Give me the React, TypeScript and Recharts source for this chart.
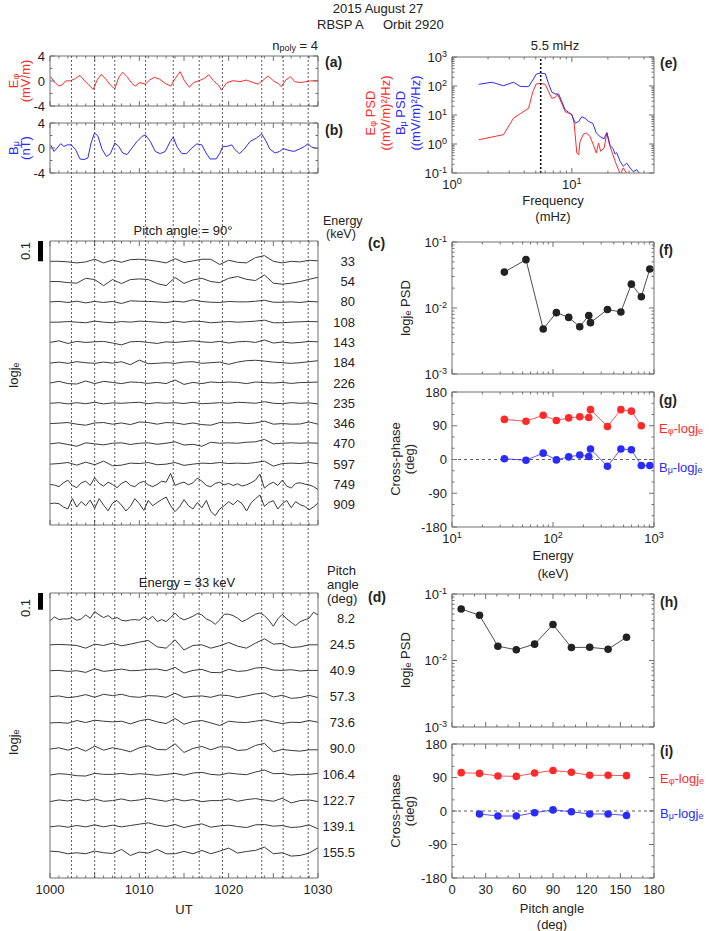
import React from 'react';
import { LineChart, Line, XAxis, YAxis, ReferenceLine } from 'recharts';

const FONT = '"Liberation Sans", Arial, Helvetica, sans-serif';
const INK = '#222';
const BOX = '#707070';
const RED = '#ff2b2b';
const BLUE = '#2b2bff';
const TRACE = '#3a3a3a';
const PAD = 45;

// minutes after 10:00 UT
const MIN = [0, 1, 2, 3, 4, 5, 6, 7, 8, 9, 10, 11, 12, 13, 14, 15, 16, 17, 18, 19, 20, 21, 22, 23, 24, 25, 26, 27, 28, 29, 30];
const HALF = [0, 0.5, 1, 1.5, 2, 2.5, 3, 3.5, 4, 4.5, 5, 5.5, 6, 6.5, 7, 7.5, 8, 8.5, 9, 9.5, 10, 10.5, 11, 11.5, 12, 12.5, 13, 13.5, 14, 14.5, 15,
  15.5, 16, 16.5, 17, 17.5, 18, 18.5, 19, 19.5, 20, 20.5, 21, 21.5, 22, 22.5, 23, 23.5, 24, 24.5, 25, 25.5, 26, 26.5, 27, 27.5, 28, 28.5, 29, 29.5, 30];
const markerMin = [2.4, 5.0, 7.25, 10.7, 13.8, 16.7, 19.3, 23.7, 26.1, 28.9];

// (a) E_phi, mV/m
const ePhiMin = [0.07, 0.45, 1.0, 1.37, 1.75, 2.3, 2.86, 3.35, 3.8, 4.35, 4.83, 5.28, 5.72, 6.2, 6.77, 7.25, 7.7, 8.14, 8.62, 9.18, 9.55, 10.04, 10.67, 11.15, 11.67, 12.27, 12.9, 13.53, 14.0, 14.57,
  15.0, 15.6, 16.06, 16.7, 17.25, 17.77, 18.3, 18.85, 19.2, 19.8, 20.5, 21.26, 22.0, 22.75, 23.3, 23.87, 24.42, 25.0, 25.54, 25.9, 26.4, 26.9, 27.4, 27.96, 28.5, 29.07, 29.6, 30];
const ePhi = [0.7, -0.1, -0.8, -0.6, 0, 0.05, 0.4, 0.9, 0.15, -0.65, -1.35, 0.15, 1.05, 0.4, -0.65, -1.25, 0.6, 1.4, 0.7, -0.4, -0.8, -0.25, -0.5, 0.15, 0.6, 0.3, -0.4, -0.8, 0.4, 1.5,
  0.15, -1.0, -0.25, 0.05, 0.4, 1.0, 0.05, -0.65, -1.45, -0.25, 0.05, -0.1, 0.15, -0.25, -0.5, 0.15, 0.8, 0.05, -0.4, -0.9, 0.15, 0.7, -0.1, -0.25, -0.15, 0, 0.05, 0.05];

// (b) B_mu, nT
const bMuMin = [0.07, 0.45, 0.8, 1.2, 1.56, 1.93, 2.38, 2.86, 3.35, 3.8, 4.24, 4.6, 4.98, 5.35, 5.84, 6.32, 6.77, 7.25, 7.7, 8.14, 8.62, 9.18, 9.74, 10.3, 10.67, 11.23, 11.78, 12.34, 12.9, 13.46, 13.8,
  14.2, 14.76, 15.3, 15.87, 16.43, 17.0, 17.47, 17.92, 18.6, 19.03, 19.33, 19.8, 20.35, 20.7, 21.2, 21.7, 22.4, 23.12, 23.7, 24.2, 24.6, 25.2, 25.7, 26.1, 26.65, 27.3, 27.96, 28.5, 28.9, 29.26, 30];
const bMu = [0.5, -0.55, 0, 0.7, 0.25, 0.5, 0.5, -0.25, -1.75, -1.85, -1.6, 0.8, 2.4, 1.95, -0.25, -1.35, -0.9, 0.8, 0.25, -0.8, -1.05, 0, 1.05, 1.85, 2.1, 1.05, -0.55, -0.9, -0.55, 1.05, 1.75,
  0.25, -0.9, -0.9, 0, 0.65, 0.5, -0.8, -1.75, -1.75, -0.8, 0.25, 0.25, 0.5, -0.25, -0.9, -0.25, 1.05, 1.6, 2.25, 1.05, -0.15, -0.8, -0.55, -0.1, -0.35, -0.55, -0.15, 0.25, 0.7, 0.15, -0.1];

// (c) log je fluctuations at 90 deg, in 0.001 units
const energyKeV = [33, 54, 80, 108, 143, 184, 226, 235, 346, 470, 597, 749, 909];
const c33 = [0, 0, -3, -8, -3, 10, -8, 6, -5, 8, 10, 6, 0, -8, 13, -6, 2, 10, 10, -16, 5, -5, -8, 18, 28, 0, -8, 0, -3, 5, 2];
const c54 = [0, 0, -5, -8, 16, 10, -20, 10, -10, 10, 13, 10, -10, -20, 20, -9, 8, 16, 0, -5, 16, 25, 11, 5, 33, -8, -13, -8, 0, 11, 21];
const c80 = [0, 2, -3, 3, -5, 2, -3, 2, -8, 5, 3, 2, 0, -3, 3, -1, 10, 2, -2, -3, 2, 0, 0, 3, 8, -2, -2, 0, -3, 2, 0];
const c108 = [0, 0, 3, 0, -3, 5, 0, -3, 3, 0, 5, 3, 0, -3, 5, -1, 5, 3, -3, 0, 3, 0, 2, 5, 10, -3, -3, 0, 2, 3, 2];
const c143 = [0, 8, -5, 5, 0, 3, 5, -3, -12, 3, 5, 0, -5, 3, 0, 4, 8, 3, 0, 5, -3, 3, 5, 0, 12, -3, 2, -3, 0, 5, 3];
const c184 = [-2, 3, -3, 5, 0, -3, 3, -2, 5, -10, 13, -5, -3, 0, -3, 3, 5, -3, 0, 3, -8, 3, 10, 12, 8, 3, 0, -3, 0, 5, 10];
const c226 = [0, 8, -3, -5, 10, -3, 8, 3, -3, 5, 3, -2, 3, -3, 15, -7, 3, -3, 5, 2, 5, 3, -3, 5, 2, 0, 3, -2, 2, 3, 5];
const c235 = [0, 3, -3, 3, -2, 5, -3, 2, 0, 3, 5, -2, 3, 0, 3, -1, 5, -2, 0, 3, 0, 5, 3, 0, 8, 0, -2, 3, 0, 2, -3];
const c346 = [0, 2, 5, -3, -8, 3, 5, -3, 3, -5, 8, 5, -3, 5, 3, -4, 3, -5, -8, 5, 3, 5, 0, 3, 12, -3, 0, -3, -2, 8, -3];
const c470 = [0, 5, -3, -12, 5, 0, -5, 3, 5, -3, 3, 5, -2, 3, 10, -6, -2, -12, 8, 3, 5, 3, 8, 10, 22, 0, 3, 5, 3, 5, 3];
const c597 = [0, 3, 8, -5, 10, -3, 15, -8, -5, 5, 3, 8, -3, 0, 8, -6, 0, 5, 3, 8, 3, 5, 3, 8, 15, -10, 3, 5, 3, 8, 2];
const c749 = [0, -3, -11, 8, 21, -5, -16, 8, 16, -5, 33, 5, -8, 11, 0, -16, 5, 16, -5, -11, 8, 15, -2, -11, 0, 16, 11, 54, -5, 5, 11,
  -2, 8, 31, 16, -5, -11, 5, 11, -2, 5, -5, 3, -8, -2, 8, 21, 51, -18, 0, 11, -5, 21, -8, -18, 5, 8, 2, -2, -11, -25];
const c909 = [5, 8, 5, -11, -21, 30, -11, 15, -5, 23, -18, 30, -2, -30, 8, 21, -2, -31, -8, 30, 5, -28, 21, -5, 11, 25, 38, -5, -34, -11, 25,
  -5, -21, 11, -15, 21, -33, -54, -21, -5, 15, 0, 21, 5, -31, 8, 30, 48, -8, 11, 20, -21, 5, 21, -15, 15, 0, -8, -25, -11, 8];
const cTraces = [c33, c54, c80, c108, c143, c184, c226, c235, c346, c470, c597, c749, c909];

// (d) log je fluctuations at 33 keV, in 0.001 units
const pitchDeg = [8.2, 24.5, 40.9, 57.3, 73.6, 90.0, 106.4, 122.7, 139.1, 155.5];
const d8 = [-12, 12, -4, 0, 0, 8, -8, 0, 24, 4, 44, 24, 8, 20, 0, 8, -8, -12, -6, -4, -8, 12, -4, 16, -16, -4, -16, 8, 34, 8, -6,
  4, 16, 32, 24, 0, -12, -32, -6, 28, 28, 20, 4, -16, -4, 12, 28, 36, 20, -8, -44, 0, 28, 0, -20, -40, -16, -6, 4, 40, 24];
const d24 = [0, 2, 0, -4, -20, 4, -4, 10, -6, 4, 16, 26, -12, -20, 30, -31, -4, 0, -20, -6, 14, -8, -20, 10, 36, 4, 8, -16, -12, 0, 0];
const d40 = [0, 2, -4, 0, -10, 12, -4, 2, 10, 0, 2, 8, 10, 0, 20, -14, 2, 8, -10, -12, 8, -4, 0, 16, 20, 4, 2, 6, -2, 2, 2];
const d57 = [0, 4, -6, 0, 12, -4, 14, 6, 14, 0, -4, 6, 4, -4, 20, -5, 2, 4, -4, 10, 6, -6, 4, 16, 22, -2, 8, -10, -6, 8, -6];
const d73 = [-2, 0, -4, 12, 0, 14, 8, 4, 8, -8, 10, 20, 4, -6, 24, -10, 6, 12, -2, -18, 8, 2, 0, 8, 16, 4, -6, 2, 0, 12, 2];
const d90 = [-4, 4, -10, 6, -16, 14, -10, 4, -6, -20, 4, 16, -6, -8, 28, -24, 0, 12, -8, 10, 8, -12, -8, 18, 30, -20, -6, -12, -16, -8, -8];
const d106 = [-4, 4, 0, -8, -10, 6, 0, 0, 6, -2, 4, 0, -6, 0, 6, -5, 8, 12, 0, -4, 8, 2, -2, 14, 26, 4, 6, -4, 0, 0, 6];
const d122 = [-8, 2, -4, 6, -4, 8, -6, -2, 8, -4, 2, 12, 2, -6, 8, -4, 4, -8, -2, -2, 8, -6, 4, 10, 2, -6, 12, -16, -2, 2, -8];
const d139 = [-4, 2, -6, 4, -4, 8, -4, 6, -4, 4, 12, 20, 6, -2, 10, -8, 4, 14, -6, 2, 6, -2, -8, 8, 10, 0, 4, -8, -4, 8, -16];
const d155 = [6, 2, -10, -4, -10, 6, -4, -8, 16, -20, 0, -6, 16, -10, -10, 4, -10, 10, -10, 6, 24, -6, 4, 10, 30, -10, -4, -24, -20, -6, 26];
const dTraces = [d8, d24, d40, d57, d73, d90, d106, d122, d139, d155];

// (e) power spectra
const peakMHz = 5.5;
const bFreq = [1.67, 2.15, 2.69, 3.26, 3.71, 4.35, 4.73, 5.04, 5.45, 6.0, 6.4, 6.8, 7.26, 7.75, 8.26, 8.8, 9.38, 10, 10.7, 11.4, 12.1, 12.9, 13.8, 15.0, 16.0,
  17.2, 18.6, 19.6, 20.9, 22.0, 23.0, 23.7, 25.3, 26.9, 28.7, 30.6, 32.6, 34.8, 37.1];
const bPsd = [114, 135, 102, 135, 97, 95, 160, 255, 280, 265, 120, 62, 53, 53, 29, 15, 12.5, 10, 5.2, 6, 8.7, 7.7, 6, 5.1, 2.4,
  1.8, 1.5, 2.5, 0.9, 0.7, 0.45, 0.5, 0.25, 0.17, 0.22, 0.15, 0.11, 0.13, 0.09];
const eFreq = [1.67, 2.69, 3.26, 4.35, 4.73, 5.04, 5.45, 6.0, 6.4, 6.8, 7.26, 7.6, 8.0, 8.8, 9.38, 10, 10.45, 11.0, 11.4, 11.7, 12.5, 13.3, 14.2, 15.1, 16.0,
  16.7, 17.4, 18.6, 19.6, 20.6, 22.0, 23.0, 24.5, 25.3, 26.9, 28.7, 30.6];
const ePsd = [1.4, 2.1, 7.8, 17, 64, 117, 123, 114, 64, 38, 40, 52, 33, 13, 11.5, 10.7, 5.2, 0.49, 0.43, 1.2, 2.2, 2.4, 1.8, 0.95, 0.49,
  1.08, 0.56, 0.73, 2.4, 0.95, 0.43, 0.25, 0.13, 0.09, 0.15, 0.1, 0.085];

// (f)(g) vs energy
const psdEnergy = [0.035, 0.054, 0.0048, 0.0085, 0.0072, 0.0052, 0.0077, 0.006, 0.0095, 0.0087, 0.023, 0.0148, 0.039];
const phaseEEnergy = [107, 102, 118, 104, 111, 114, 112, 133, 88, 133, 129, 90];
const phaseBEnergy = [2, -2, 17, -1, 7, 12, 8, 28, -18, 28, 26, -16, -16];

// (h)(i) vs pitch angle
const psdPitch = [0.0596, 0.048, 0.0164, 0.0145, 0.0176, 0.0347, 0.0157, 0.0158, 0.0148, 0.0224];
const phaseEPitch = [103, 101, 94, 93, 102, 109, 104, 96, 96, 95];
const phaseBPitch = [null, -8, -13.5, -13.5, -4.5, 3, -2, -8, -8, -12];

const C_STEP = 0.1;
const C_MAX = (energyKeV.length + 1) * C_STEP;
const D_STEP = 0.155;
const D_MAX = (pitchDeg.length + 1) * D_STEP;
const cOffsets = energyKeV.map((_, k) => (energyKeV.length - k) * C_STEP);
const dOffsets = pitchDeg.map((_, k) => (pitchDeg.length - k) * D_STEP);

const pts = (xs: number[], ys: (number | null)[]) => xs.map((x, i) => ({ x, y: ys[i] }));

const near = (a: number, b: number) => Math.abs(a - b) <= 1e-6 * Math.max(1, Math.abs(b));
const pow10 = (v: number) => (
  <>
    10<tspan dy={-5} fontSize={9}>{Math.round(Math.log10(v))}</tspan>
  </>
);

type Side = 'bottom' | 'top' | 'left' | 'right';
function makeTick(side: Side, majors: number[], label?: (v: number) => React.ReactNode) {
  return (p: any) => {
    const v = p.payload.value;
    const major = majors.some((m) => near(v, m));
    const len = major ? 5 : 2.5;
    const { x, y } = p;
    const txt = major && label ? label(v) : null;
    let ln: React.ReactNode = null;
    let t: React.ReactNode = null;
    const tp = { fontSize: 13, fill: INK, fontFamily: FONT };
    if (side === 'bottom') {
      ln = <line x1={x} y1={y} x2={x} y2={y - len} stroke={BOX} />;
      if (txt != null) t = <text x={x} y={y + 16} textAnchor="middle" {...tp}>{txt}</text>;
    } else if (side === 'top') {
      ln = <line x1={x} y1={y} x2={x} y2={y + len} stroke={BOX} />;
    } else if (side === 'left') {
      ln = <line x1={x} y1={y} x2={x + len} y2={y} stroke={BOX} />;
      if (txt != null) t = <text x={x - 5} y={y + 4.5} textAnchor="end" {...tp}>{txt}</text>;
    } else {
      ln = <line x1={x} y1={y} x2={x - len} y2={y} stroke={BOX} />;
    }
    return <g>{ln}{t}</g>;
  };
}

const sideLabelTick = (offsets: number[], labels: string[]) => (p: any) => {
  const i = offsets.findIndex((o) => near(o, p.payload.value));
  return (
    <text x={p.x + 37} y={p.y + 4.5} textAnchor="end" fontSize={13} fill={INK} fontFamily={FONT}>
      {labels[i]}
    </text>
  );
};

interface AxisSpec {
  domain: [number, number];
  ticks?: number[];
  majors?: number[];
  log?: boolean;
  label?: (v: number) => React.ReactNode;
}

function frame(xs: AxisSpec, ys: AxisSpec, rightTick?: any, rightTicks?: number[]) {
  const common = { type: 'number' as const, allowDataOverflow: true, interval: 0 as const, tickLine: false, tickSize: 0, tickMargin: 0, axisLine: { stroke: BOX } };
  const xsc = xs.log ? 'log' : 'linear';
  const ysc = ys.log ? 'log' : 'linear';
  return [
    <XAxis key="xb" xAxisId="b" dataKey="x" orientation="bottom" height={1} domain={xs.domain} scale={xsc} ticks={xs.ticks}
      tick={xs.ticks ? makeTick('bottom', xs.majors || [], xs.label) : false} {...common} />,
    <XAxis key="xt" xAxisId="t" dataKey="x" orientation="top" height={1} domain={xs.domain} scale={xsc} ticks={xs.ticks}
      tick={xs.ticks ? makeTick('top', xs.majors || []) : false} {...common} />,
    <YAxis key="yl" yAxisId="l" orientation="left" width={1} domain={ys.domain} scale={ysc} ticks={ys.ticks}
      tick={ys.ticks ? makeTick('left', ys.majors || [], ys.label) : false} {...common} />,
    <YAxis key="yr" yAxisId="r" orientation="right" width={1} domain={ys.domain} scale={ysc} ticks={rightTicks || ys.ticks}
      tick={rightTick || (ys.ticks ? makeTick('right', ys.majors || []) : false)} {...common} />,
  ];
}

function Panel({ x, y, w, h, bare = false, children }: { x: number; y: number; w: number; h: number; bare?: boolean; children: React.ReactNode }) {
  const m = bare ? PAD : PAD - 1;
  return (
    <div style={{ position: 'absolute', left: x - PAD, top: y - PAD }}>
      <LineChart width={w + 2 * PAD} height={h + 2 * PAD} margin={{ top: m, right: m, bottom: m, left: m }}>
        {children}
      </LineChart>
    </div>
  );
}

function series(data: any[], color: string, width = 1, dotR = 0) {
  return (
    <Line data={data} dataKey="y" xAxisId="b" yAxisId="l" type="linear" stroke={color} strokeWidth={width}
      dot={dotR ? { r: dotR, fill: color, stroke: color, strokeWidth: 0 } : false} activeDot={false}
      isAnimationActive={false} connectNulls={false} />
  );
}

const LX = 50, LW = 268, RX = 452, RW = 202;
const timeTicks = MIN;
const timeMajors = [0, 5, 10, 15, 20, 25, 30];
const logMinor = (a: number, b: number) => {
  const out: number[] = [];
  for (let d = a; d < b * 0.999; d *= 10) for (let k = 1; k < 10; k++) out.push(d * k);
  out.push(b);
  return out;
};
const decades = (a: number, b: number) => {
  const out: number[] = [];
  for (let d = a; d <= b * 1.0001; d *= 10) out.push(d);
  return out;
};
const phaseTicks = [-180, -150, -120, -90, -60, -30, 0, 30, 60, 90, 120, 150, 180];
const phaseMajors = [-180, -90, 0, 90, 180];
const pitchTicks = [0, 10, 20, 30, 40, 50, 60, 70, 80, 90, 100, 110, 120, 130, 140, 150, 160, 170, 180];
const pitchMajors = [0, 30, 60, 90, 120, 150, 180];
const freqTicks = [1, 2, 3, 4, 5, 6, 7, 8, 9, 10, 20, 30, 40];

function T({ x, y, children, anchor = 'start', size = 13, weight = 'normal', fill = INK, rot = false }: any) {
  return (
    <text x={x} y={y} textAnchor={anchor} dominantBaseline="central" fontSize={size} fontWeight={weight} fill={fill}
      fontFamily={FONT} transform={rot ? `rotate(-90 ${x} ${y})` : undefined}>
      {children}
    </text>
  );
}
const sub = (s: string) => (<tspan dy={3} fontSize={9}>{s}</tspan>);
const up = (s: string) => (<tspan dy={-3}>{s}</tspan>);

export default function App() {
  const cBar = (0.1 / C_MAX) * 284;
  const dBar = (0.1 / D_MAX) * 285;
  return (
    <div style={{ position: 'absolute', left: 0, top: 0, width: 709, height: 931, background: '#fff', fontFamily: FONT }}>
      {/* (a) */}
      <Panel x={LX} y={56} w={LW} h={50}>
        {frame({ domain: [0, 30], ticks: timeTicks, majors: timeMajors }, { domain: [-4, 4], ticks: [-4, -2, 0, 2, 4], majors: [-4, 0, 4], label: (v) => String(v) })}
        {series(pts(ePhiMin, ePhi), RED)}
      </Panel>
      {/* (b) */}
      <Panel x={LX} y={123} w={LW} h={50}>
        {frame({ domain: [0, 30], ticks: timeTicks, majors: timeMajors }, { domain: [-4, 4], ticks: [-4, -2, 0, 2, 4], majors: [-4, 0, 4], label: (v) => String(v) })}
        {series(pts(bMuMin, bMu), BLUE)}
      </Panel>
      {/* (c) */}
      <Panel x={LX} y={241} w={LW} h={284}>
        {frame({ domain: [0, 30], ticks: timeTicks, majors: timeMajors }, { domain: [0, C_MAX] },
          sideLabelTick(cOffsets, energyKeV.map(String)), cOffsets)}
        {cTraces.map((tr, k) => (
          <Line key={k} data={tr.map((d, i) => ({ x: (tr.length > 31 ? HALF : MIN)[i], y: cOffsets[k] + d / 1000 }))} dataKey="y"
            xAxisId="b" yAxisId="l" type="linear" stroke={TRACE} strokeWidth={1} dot={false} activeDot={false} isAnimationActive={false} />
        ))}
      </Panel>
      {/* (d) */}
      <Panel x={LX} y={593} w={LW} h={285}>
        {frame({ domain: [0, 30], ticks: timeTicks, majors: timeMajors, label: (v) => (v % 10 === 0 ? String(1000 + v) : null) }, { domain: [0, D_MAX] },
          sideLabelTick(dOffsets, pitchDeg.map((p) => p.toFixed(1))), dOffsets)}
        {dTraces.map((tr, k) => (
          <Line key={k} data={tr.map((d, i) => ({ x: (tr.length > 31 ? HALF : MIN)[i], y: dOffsets[k] + d / 1000 }))} dataKey="y"
            xAxisId="b" yAxisId="l" type="linear" stroke={TRACE} strokeWidth={1} dot={false} activeDot={false} isAnimationActive={false} />
        ))}
      </Panel>
      {/* dotted event markers through the left column */}
      <Panel x={LX} y={56} w={LW} h={822} bare>
        <XAxis xAxisId="b" type="number" dataKey="x" domain={[0, 30]} allowDataOverflow hide />
        <YAxis yAxisId="l" type="number" domain={[0, 1]} allowDataOverflow hide />
        <Line data={markerMin.map((m) => ({ x: m, y: 0.5 }))} dataKey="y" xAxisId="b" yAxisId="l" stroke="none" dot={false}
          activeDot={false} isAnimationActive={false} />
        {markerMin.map((m) => (
          <ReferenceLine key={m} x={m} xAxisId="b" yAxisId="l" stroke="#333" strokeWidth={0.8} strokeDasharray="2 2" />
        ))}
      </Panel>

      {/* (e) */}
      <Panel x={RX} y={57} w={RW} h={116}>
        {frame({ domain: [1, 48.5], ticks: freqTicks, majors: [1, 10], log: true, label: pow10 },
          { domain: [0.1, 1000], ticks: logMinor(0.1, 1000), majors: decades(0.1, 1000), log: true, label: pow10 })}
        {series(pts(eFreq, ePsd), RED)}
        {series(pts(bFreq, bPsd), BLUE)}
        <ReferenceLine x={peakMHz} xAxisId="b" yAxisId="l" stroke="#111" strokeWidth={1.6} strokeDasharray="2 2" />
      </Panel>
      {/* (f) */}
      <Panel x={RX} y={242} w={RW} h={132}>
        {frame({ domain: [10, 1000], ticks: logMinor(10, 1000), majors: [10, 100, 1000], log: true },
          { domain: [0.001, 0.1], ticks: logMinor(0.001, 0.1), majors: decades(0.001, 0.1), log: true, label: pow10 })}
        {series(pts(energyKeV, psdEnergy), '#222', 0.8, 3.8)}
      </Panel>
      {/* (g) */}
      <Panel x={RX} y={392} w={RW} h={135}>
        {frame({ domain: [10, 1000], ticks: logMinor(10, 1000), majors: [10, 100, 1000], log: true, label: pow10 },
          { domain: [-180, 180], ticks: phaseTicks, majors: phaseMajors, label: (v) => String(v) })}
        <ReferenceLine y={0} xAxisId="b" yAxisId="l" stroke="#333" strokeWidth={0.8} strokeDasharray="3 3" />
        {series(pts(energyKeV.slice(0, phaseEEnergy.length), phaseEEnergy), RED, 0.8, 3.8)}
        {series(pts(energyKeV, phaseBEnergy), BLUE, 0.8, 3.8)}
      </Panel>
      {/* (h) */}
      <Panel x={RX} y={594} w={RW} h={133}>
        {frame({ domain: [0, 180], ticks: pitchTicks, majors: pitchMajors },
          { domain: [0.001, 0.1], ticks: logMinor(0.001, 0.1), majors: decades(0.001, 0.1), log: true, label: pow10 })}
        {series(pts(pitchDeg, psdPitch), '#222', 0.8, 3.8)}
      </Panel>
      {/* (i) */}
      <Panel x={RX} y={744} w={RW} h={134}>
        {frame({ domain: [0, 180], ticks: pitchTicks, majors: pitchMajors, label: (v) => String(v) },
          { domain: [-180, 180], ticks: phaseTicks, majors: phaseMajors, label: (v) => String(v) })}
        <ReferenceLine y={0} xAxisId="b" yAxisId="l" stroke="#333" strokeWidth={0.8} strokeDasharray="3 3" />
        {series(pts(pitchDeg, phaseEPitch), RED, 0.8, 3.8)}
        {series(pts(pitchDeg, phaseBPitch).filter((p) => p.y !== null), BLUE, 0.8, 3.8)}
      </Panel>

      {/* text layer */}
      <svg width={709} height={931} style={{ position: 'absolute', left: 0, top: 0, pointerEvents: 'none' }}>
        <T x={378} y={8} anchor="middle">2015 August 27</T>
        <T x={317} y={24}>RBSP A</T>
        <T x={383} y={24}>Orbit 2920</T>
        <T x={318} y={45} anchor="end">n{sub('poly')}{up(' = 4')}</T>

        <T x={325} y={62} size={14} weight="bold">(a)</T>
        <T x={325} y={130} size={14} weight="bold">(b)</T>
        <T x={13} y={81} rot anchor="middle" fill={RED}>E{sub('φ')}</T>
        <T x={25} y={81} rot anchor="middle" fill={RED}>(mV/m)</T>
        <T x={13} y={148} rot anchor="middle" fill={BLUE}>B{sub('μ')}</T>
        <T x={25} y={148} rot anchor="middle" fill={BLUE}>(nT)</T>

        <T x={183} y={230} anchor="middle">Pitch angle = 90°</T>
        <T x={323} y={221} size={12.5}>Energy</T>
        <T x={326} y={234} size={12.5}>(keV)</T>
        <T x={368} y={243} size={14} weight="bold">(c)</T>
        <T x={25} y={251} rot anchor="middle">0.1</T>
        <rect x={38} y={241} width={5} height={cBar} fill="#000" />
        <T x={13} y={375} rot anchor="middle">log{'j'}{sub('e')}</T>

        <T x={187} y={582} anchor="middle">Energy = 33 keV</T>
        <T x={327} y={570}>Pitch</T>
        <T x={327} y={584}>angle</T>
        <T x={327} y={598}>(deg)</T>
        <T x={368} y={597} size={14} weight="bold">(d)</T>
        <T x={25} y={608} rot anchor="middle">0.1</T>
        <rect x={38} y={593} width={5} height={dBar} fill="#000" />
        <T x={13} y={742} rot anchor="middle">log{'j'}{sub('e')}</T>
        <T x={184} y={909} anchor="middle">UT</T>

        <T x={555} y={45} anchor="middle">5.5 mHz</T>
        <T x={660} y={63} size={14} weight="bold">(e)</T>
        <T x={370} y={113} rot anchor="middle" fill={RED}>E{sub('φ')}{up(' PSD')}</T>
        <T x={385} y={113} rot anchor="middle" fill={RED}>((mV/m)²/Hz)</T>
        <T x={400} y={113} rot anchor="middle" fill={BLUE}>B{sub('μ')}{up(' PSD')}</T>
        <T x={415} y={113} rot anchor="middle" fill={BLUE}>((mV/m)²/Hz)</T>
        <T x={553} y={200} anchor="middle">Frequency</T>
        <T x={553} y={216} anchor="middle">(mHz)</T>

        <T x={659} y={250} size={14} weight="bold">(f)</T>
        <T x={405} y={308} rot anchor="middle">logj{sub('e')}{up(' PSD')}</T>
        <T x={659} y={400} size={14} weight="bold">(g)</T>
        <T x={395} y={459} rot anchor="middle">Cross-phase</T>
        <T x={409} y={459} rot anchor="middle">(deg)</T>
        <T x={659} y={428} fill={RED}>E{sub('φ')}{up('-logj')}{sub('e')}</T>
        <T x={659} y={467} fill={BLUE}>B{sub('μ')}{up('-logj')}{sub('e')}</T>
        <T x={553} y={555} anchor="middle">Energy</T>
        <T x={553} y={573} anchor="middle">(keV)</T>

        <T x={660} y={602} size={14} weight="bold">(h)</T>
        <T x={405} y={660} rot anchor="middle">logj{sub('e')}{up(' PSD')}</T>
        <T x={660} y={751} size={14} weight="bold">(i)</T>
        <T x={395} y={811} rot anchor="middle">Cross-phase</T>
        <T x={409} y={811} rot anchor="middle">(deg)</T>
        <T x={660} y={778} fill={RED}>E{sub('φ')}{up('-logj')}{sub('e')}</T>
        <T x={660} y={813} fill={BLUE}>B{sub('μ')}{up('-logj')}{sub('e')}</T>
        <T x={552} y={908} anchor="middle">Pitch angle</T>
        <T x={552} y={924} anchor="middle">(deg)</T>
      </svg>
    </div>
  );
}
